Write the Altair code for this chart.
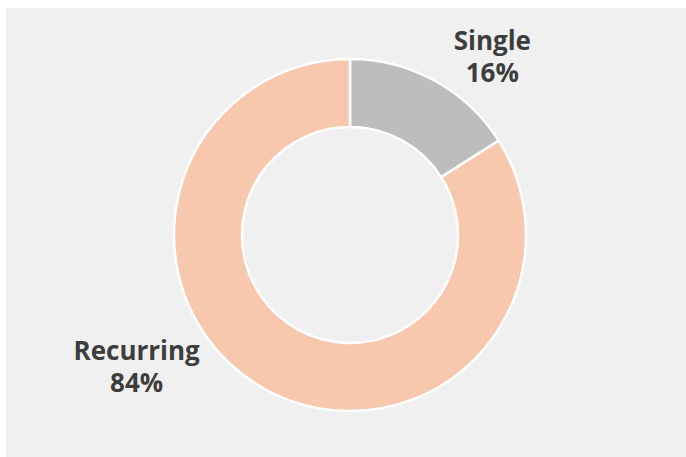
import altair as alt
import pandas as pd

categories = ["Single", "Recurring"]
values = [16, 84]
colors = ["#bdbdbd", "#f7c8ae"]
order = [0, 1]

df = pd.DataFrame({"category": categories, "value": values, "order": order})

base = alt.Chart(df).encode(
    theta=alt.Theta("value:Q", stack=True),
    order=alt.Order("order:Q"),
).transform_calculate(pct="datum.value + '%'")

arc = base.mark_arc(
    innerRadius=108, outerRadius=176, stroke="white", strokeWidth=2.5
).encode(
    color=alt.Color("category:N", scale=alt.Scale(domain=categories, range=colors), legend=None),
    x=alt.value(344),
    y=alt.value(227),
)

text_common = dict(
    font="Open Sans", fontWeight="bold", fontSize=26, color="#3d3d3d",
    align="center", baseline="middle",
)


def label_layer(cat, field, radius, dx, dy):
    return base.mark_text(radius=radius, dx=dx, dy=dy, **text_common).encode(
        text=alt.condition(alt.datum.category == cat, f"{field}:N", alt.value("")),
        x=alt.value(344),
        y=alt.value(227),
    )


layers = [
    arc,
    label_layer("Single", "category", 202, 45, -16),
    label_layer("Single", "pct", 202, 45, 16),
    label_layer("Recurring", "category", 200, -117, -58),
    label_layer("Recurring", "pct", 200, -117, -26),
]

chart = alt.layer(*layers).properties(
    width=680,
    height=449,
    padding={"left": 6, "top": 8, "right": 0, "bottom": 0},
    background="white",
    autosize=alt.AutoSizeParams(type="none"),
).configure_view(fill="#f0f0f0", strokeWidth=0)

chart.save("out.html", embed_options={"renderer": "svg", "actions": False})
